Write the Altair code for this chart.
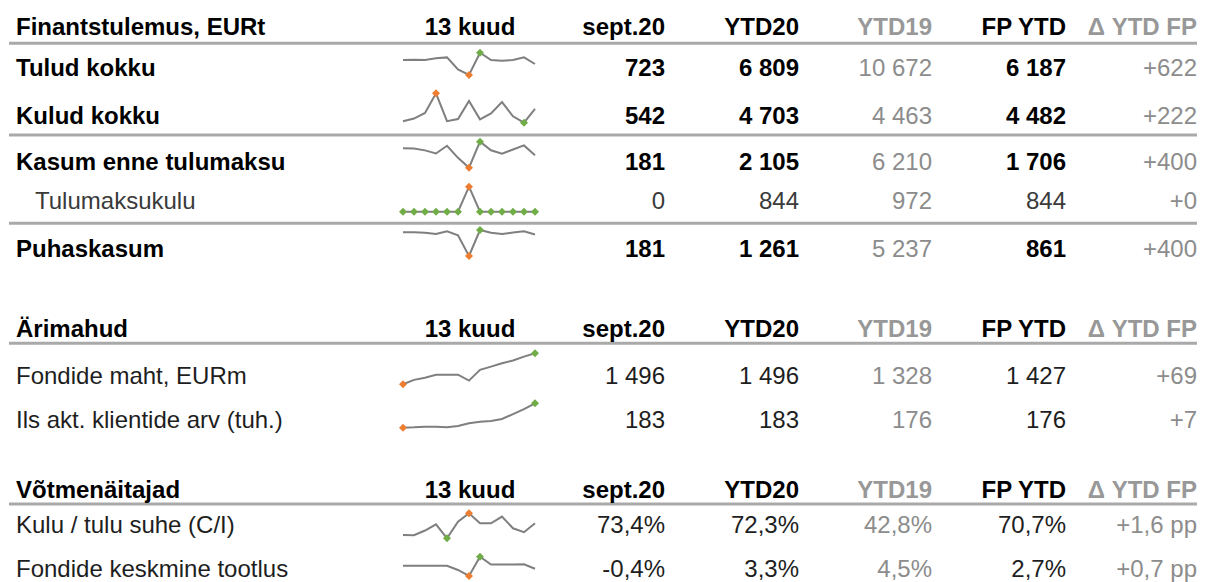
import altair as alt
import pandas as pd

# ---------------- data ----------------
months = ["sept.19", "okt.19", "nov.19", "dets.19", "jaan.20", "veebr.20", "märts.20",
          "apr.20", "mai.20", "juuni.20", "juuli.20", "aug.20", "sept.20"]

columns = ["sept.20", "YTD20", "YTD19", "FP YTD", "Δ YTD FP"]
section_titles = ["Finantstulemus, EURt", "Ärimahud", "Võtmenäitajad"]
spark_title = "13 kuud"

fin_labels = ["Tulud kokku", "Kulud kokku", "Kasum enne tulumaksu", "Tulumaksukulu", "Puhaskasum"]
fin_sept20 = [723, 542, 181, 0, 181]
fin_ytd20 = [6809, 4703, 2105, 844, 1261]
fin_ytd19 = [10672, 4463, 6210, 972, 5237]
fin_fp = [6187, 4482, 1706, 844, 861]
fin_delta = [622, 222, 400, 0, 400]

vol_labels = ["Fondide maht, EURm", "Ils akt. klientide arv (tuh.)"]
vol_sept20 = [1496, 183]
vol_ytd20 = [1496, 183]
vol_ytd19 = [1328, 176]
vol_fp = [1427, 176]
vol_delta = [69, 7]

kpi_labels = ["Kulu / tulu suhe (C/I)", "Fondide keskmine tootlus"]
kpi_sept20 = [73.4, -0.4]
kpi_ytd20 = [72.3, 3.3]
kpi_ytd19 = [42.8, 4.5]
kpi_fp = [70.7, 2.7]
kpi_delta = [1.6, 0.7]

# 13-month sparkline series (sept.19 .. sept.20)
spark_tulud = [784, 790, 784, 810, 825, 641, 554, 897, 784, 774, 784, 825, 723]
spark_kulud = [494, 504, 526, 602, 494, 502, 572, 501, 524, 568, 513, 488, 542]
spark_kasum = [290, 286, 258, 208, 331, 139, -18, 396, 260, 206, 271, 337, 181]
spark_tulumaks = [0, 0, 0, 0, 0, 0, 844, 0, 0, 0, 0, 0, 0]
spark_puhas = [290, 286, 258, 208, 331, 139, -862, 396, 260, 206, 271, 337, 181]
spark_fondid = [1328, 1352, 1364, 1380, 1380, 1380, 1348, 1406, 1424, 1442, 1457, 1478, 1496]
spark_kliendid = [176.0, 176.1, 176.3, 176.3, 176.1, 176.5, 177.3, 177.7, 177.9, 178.5, 179.9, 181.3, 183.0]
spark_ci = [69.2, 69.1, 70.8, 73.0, 68.0, 74.0, 77.0, 73.4, 73.4, 75.8, 71.6, 70.2, 73.4]
spark_tootlus = [0.8, 0.8, 0.8, 0.8, 0.8, -0.9, -3.3, 4.4, 1.3, 1.3, 1.3, 1.4, -0.4]

# ---------------- formatting helpers ----------------
def fmt_int(v):
    return f"{v:,}".replace(",", " ")

def fmt_delta(v):
    return ("+" if v >= 0 else "") + fmt_int(v)

def fmt_pct(v):
    return f"{v:.1f}".replace(".", ",") + "%"

def fmt_pp(v):
    return ("+" if v >= 0 else "") + f"{v:.1f}".replace(".", ",") + " pp"

# ---------------- layout (page pixel units) ----------------
W, H = 1189, 574
LABEL_X, INDENT_X = 16, 35
SPARK_CENTER_X = 470
SPARK_LEFT, SPARK_STEP = 403, 11
COL_RIGHT = [665, 799, 932, 1066, 1197]
RULE_Y = [43.3, 135, 223.3, 343.3, 504]
RULE_X = (9, 1200)
HEADER_BASE = [35, 337, 498]
BLACK, DARK, MID, GRAY, HGRAY = "#000000", "#1e1e1e", "#3a3a3a", "#8c8c8c", "#989898"
FONT = "Liberation Sans"
FS = 24

rows = [
    dict(label=fin_labels[0], base=76, style="bold", up=True, spark=spark_tulud, band=(52.7, 75.0)),
    dict(label=fin_labels[1], base=124, style="bold", up=False, spark=spark_kulud, band=(93.3, 122.7)),
    dict(label=fin_labels[2], base=170, style="bold", up=True, spark=spark_kasum, band=(141.7, 167.7)),
    dict(label=fin_labels[3], base=209, style="sub", up=False, spark=spark_tulumaks, band=(186.7, 211.7)),
    dict(label=fin_labels[4], base=257, style="bold", up=True, spark=spark_puhas, band=(230.0, 256.0)),
    dict(label=vol_labels[0], base=384, style="reg", up=True, spark=spark_fondid, band=(353.3, 384.3)),
    dict(label=vol_labels[1], base=428, style="reg", up=True, spark=spark_kliendid, band=(403.3, 427.7)),
    dict(label=kpi_labels[0], base=533, style="reg", up=False, spark=spark_ci, band=(513.3, 538.3)),
    dict(label=kpi_labels[1], base=577, style="reg", up=True, spark=spark_tootlus, band=(556.7, 576.0)),
]

values = []
for i in range(5):
    values.append([fmt_int(fin_sept20[i]), fmt_int(fin_ytd20[i]), fmt_int(fin_ytd19[i]),
                   fmt_int(fin_fp[i]), fmt_delta(fin_delta[i])])
for i in range(2):
    values.append([fmt_int(vol_sept20[i]), fmt_int(vol_ytd20[i]), fmt_int(vol_ytd19[i]),
                   fmt_int(vol_fp[i]), fmt_delta(vol_delta[i])])
for i in range(2):
    values.append([fmt_pct(kpi_sept20[i]), fmt_pct(kpi_ytd20[i]), fmt_pct(kpi_ytd19[i]),
                   fmt_pct(kpi_fp[i]), fmt_pp(kpi_delta[i])])

left_bold, left_reg, center_bold, right_bold, right_reg = [], [], [], [], []

for title, yb in zip(section_titles, HEADER_BASE):
    left_bold.append(dict(x=LABEL_X, y=yb, t=title, c=BLACK))
    center_bold.append(dict(x=SPARK_CENTER_X, y=yb, t=spark_title, c=BLACK))
    for j, col in enumerate(columns):
        right_bold.append(dict(x=COL_RIGHT[j], y=yb, t=col, c=HGRAY if j in (2, 4) else BLACK))

for r, vals in zip(rows, values):
    if r["style"] == "bold":
        left_bold.append(dict(x=LABEL_X, y=r["base"], t=r["label"], c=BLACK))
    elif r["style"] == "sub":
        left_reg.append(dict(x=INDENT_X, y=r["base"], t=r["label"], c=MID))
    else:
        left_reg.append(dict(x=LABEL_X, y=r["base"], t=r["label"], c=DARK))
    for j, v in enumerate(vals):
        if j in (2, 4):
            right_reg.append(dict(x=COL_RIGHT[j], y=r["base"], t=v, c=GRAY))
        elif r["style"] == "bold":
            right_bold.append(dict(x=COL_RIGHT[j], y=r["base"], t=v, c=BLACK))
        else:
            right_reg.append(dict(x=COL_RIGHT[j], y=r["base"], t=v, c=MID if r["style"] == "sub" else DARK))

spark_rows = []
for r in rows:
    for i, v in enumerate(r["spark"]):
        spark_rows.append(dict(metric=r["label"], kuu=months[i], i=i, value=v,
                               up=r["up"], top=r["band"][0], bottom=r["band"][1]))
spark_df = pd.DataFrame(spark_rows)

rules_df = pd.DataFrame(dict(y=RULE_Y, x0=[RULE_X[0]] * len(RULE_Y), x1=[RULE_X[1]] * len(RULE_Y)))

xs = alt.Scale(domain=[8, 8 + W], nice=False, zero=False)
ys = alt.Scale(domain=[8, 8 + H], nice=False, zero=False, reverse=True)


def text_layer(items, align, weight):
    return alt.Chart(pd.DataFrame(items)).mark_text(
        align=align, baseline="alphabetic", font=FONT, fontSize=FS, fontWeight=weight
    ).encode(
        x=alt.X("x:Q", scale=xs, axis=None),
        y=alt.Y("y:Q", scale=ys, axis=None),
        text="t:N",
        color=alt.Color("c:N", scale=None),
    )


rules = alt.Chart(rules_df).mark_rule(color="#a9a9a9", strokeWidth=3).encode(
    x=alt.X("x0:Q", scale=xs, axis=None),
    x2="x1:Q",
    y=alt.Y("y:Q", scale=ys, axis=None),
)

spark_base = alt.Chart(spark_df).transform_joinaggregate(
    vmin="min(value)", vmax="max(value)", groupby=["metric"]
).transform_calculate(
    sy="datum.bottom - (datum.value - datum.vmin) / (datum.vmax - datum.vmin) * (datum.bottom - datum.top)",
    sx=f"{SPARK_LEFT} + datum.i * {SPARK_STEP}",
)

spark_line = spark_base.mark_line(color="#7f7f7f", strokeWidth=2).encode(
    x=alt.X("sx:Q", scale=xs, axis=None),
    y=alt.Y("sy:Q", scale=ys, axis=None),
    detail="metric:N",
    order="i:Q",
)

spark_pts = spark_base.transform_filter(
    "datum.value == datum.vmin || datum.value == datum.vmax"
).transform_calculate(
    kind="((datum.value == datum.vmax) == datum.up) ? 'hea' : 'halb'"
).mark_point(shape="diamond", filled=True, size=64, opacity=1).encode(
    x=alt.X("sx:Q", scale=xs, axis=None),
    y=alt.Y("sy:Q", scale=ys, axis=None),
    color=alt.Color("kind:N", scale=alt.Scale(domain=["hea", "halb"], range=["#70AD47", "#ED7D31"]), legend=None),
)

chart = alt.layer(
    rules,
    spark_line,
    spark_pts,
    text_layer(left_bold, "left", "bold"),
    text_layer(left_reg, "left", "normal"),
    text_layer(center_bold, "center", "bold"),
    text_layer(right_bold, "right", "bold"),
    text_layer(right_reg, "right", "normal"),
).properties(
    width=W, height=H, padding=0,
    autosize=alt.AutoSizeParams(type="none"),
    background="white",
).configure_view(stroke=None)

chart.save("out.html", embed_options={"renderer": "svg", "actions": False})
